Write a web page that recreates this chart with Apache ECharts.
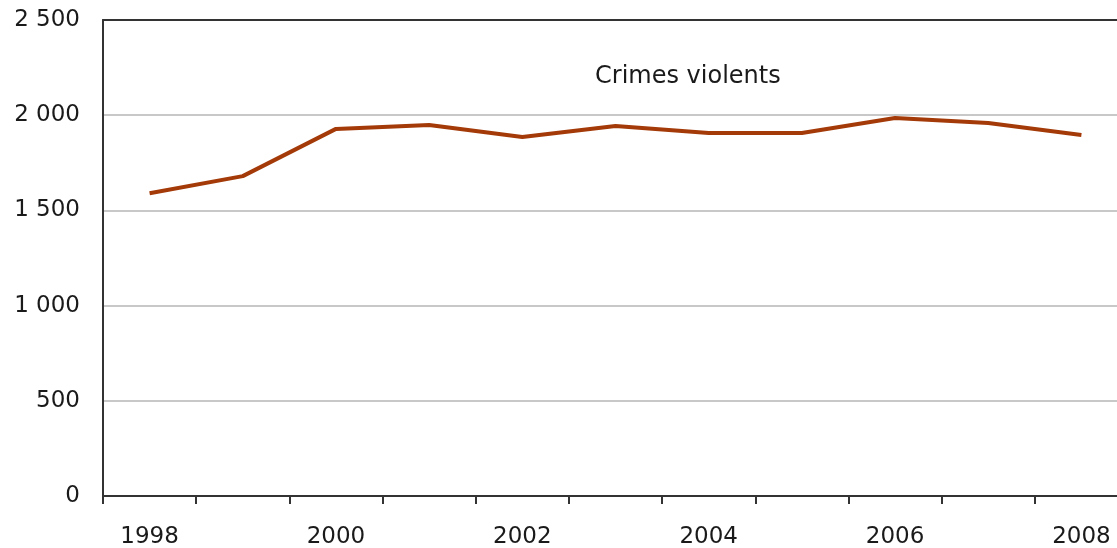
<!DOCTYPE html>
<html>
<head>
<meta charset="utf-8">
<script src="https://cdn.jsdelivr.net/npm/echarts@6/dist/echarts.min.js"></script>
<style>
html,body{margin:0;padding:0;background:#fff;}
#c{width:1117px;height:548px;}
</style>
</head>
<body>
<div id="c"></div>
<script>
var years = ['1998','1999','2000','2001','2002','2003','2004','2005','2006','2007','2008'];
var crimesViolents = [1590, 1680, 1928, 1949, 1885, 1943, 1906, 1906, 1985, 1959, 1896];
var seriesName = 'Crimes violents';
var yTicks = {min: 0, max: 2500, interval: 500};

var chart = echarts.init(document.getElementById('c'), null, {renderer: 'canvas'});
var font = '"DejaVu Sans", Verdana, sans-serif';
function fmt(v){ return String(v).replace(/\B(?=(\d{3})+(?!\d))/g, ' '); }
chart.setOption({
  animation: false,
  backgroundColor: '#fff',
  grid: {left: 103, top: 20, height: 476, width: 1025, outerBoundsMode: 'none', containLabel: false},
  graphic: [{
    type: 'text', left: 595, top: 65,
    style: {text: seriesName, font: '24px ' + font, fill: '#1a1a1a'}
  }],
  xAxis: [{
    type: 'category', data: years, boundaryGap: true,
    axisLine: {lineStyle: {color: '#333', width: 2}},
    axisTick: {show: true, interval: 0, length: 8, lineStyle: {color: '#333', width: 2}},
    axisLabel: {interval: 1, color: '#1a1a1a', fontFamily: font, fontSize: 23, margin: 30},
    splitLine: {show: false}
  }, {
    type: 'category', data: years, position: 'top', boundaryGap: true,
    axisLine: {show: true, lineStyle: {color: '#333', width: 2}},
    axisTick: {show: false}, axisLabel: {show: false}, splitLine: {show: false}
  }],
  yAxis: {
    type: 'value', min: yTicks.min, max: yTicks.max, interval: yTicks.interval,
    axisLine: {show: true, lineStyle: {color: '#333', width: 2}},
    axisTick: {show: false},
    axisLabel: {color: '#1a1a1a', fontFamily: font, fontSize: 23, margin: 23, formatter: fmt},
    splitLine: {lineStyle: {color: '#c8c8c8', width: 2}}
  },
  series: [{
    name: seriesName, type: 'line', data: crimesViolents, xAxisIndex: 0,
    symbol: 'none', lineStyle: {color: '#a33a08', width: 4}, itemStyle: {color: '#a33a08'}
  }]
});
</script>
</body>
</html>
